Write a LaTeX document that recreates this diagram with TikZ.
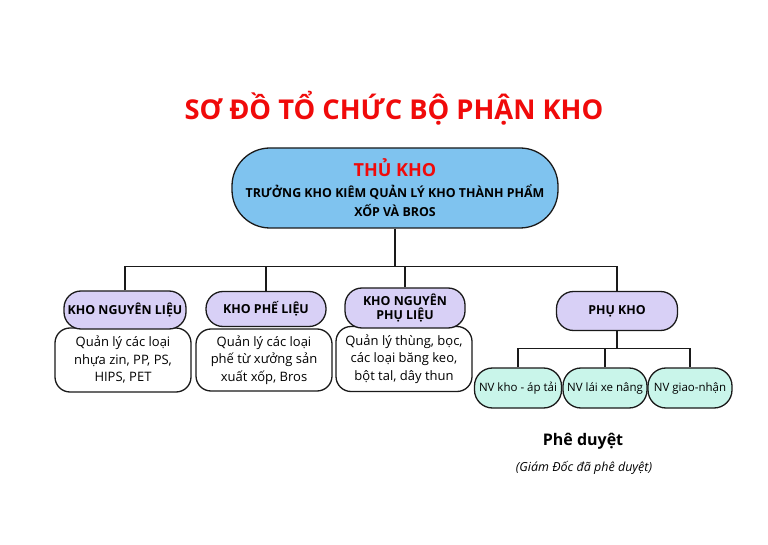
\documentclass[tikz,border=0pt]{standalone}
\usepackage{fontspec}
\setmainfont{Open Sans}
\usetikzlibrary{positioning}
\definecolor{khored}{HTML}{F00A0A}
\definecolor{khoblue}{HTML}{7FC3EF}
\definecolor{khopurple}{HTML}{D8D0F6}
\definecolor{khomint}{HTML}{C9F5EA}
\definecolor{kholine}{HTML}{1A1A1A}

\begin{document}
\begin{tikzpicture}[x=1pt, y=1pt,
    chief/.style={draw=kholine, fill=khoblue, line width=1.3pt, rounded corners=38pt,
          minimum width=326pt, minimum height=80pt, align=center, inner sep=2pt},
    headbox/.style={draw=kholine, fill=khopurple, line width=1.3pt, rounded corners=17pt,
          minimum width=122pt, minimum height=38pt, align=center, inner sep=2pt,
          font=\fontsize{12.4}{14}\selectfont\bfseries},
    bodybox/.style={draw=kholine, fill=white, line width=1.3pt, rounded corners=15pt,
          minimum width=136pt, minimum height=64pt, align=center, inner sep=2pt,
          font=\fontsize{13}{17.5}\selectfont},
    staffbox/.style={draw=kholine, fill=khomint, line width=1.3pt, rounded corners=18pt,
          minimum height=40pt, align=center, inner sep=1pt,
          font=\fontsize{11.5}{14}\selectfont},
    link/.style={draw=kholine, line width=1.3pt}]
    \useasboundingbox[fill=white] (0,0) rectangle (768,544);

    \node[text=khored, font=\fontsize{27.3}{32}\selectfont\bfseries] (title) at (394,436)
          {SƠ ĐỒ TỔ CHỨC BỘ PHẬN KHO};

    \node[chief, font=\fontsize{12.4}{19}\selectfont\bfseries] (chief) at (395,356)
          {{\fontsize{18}{22}\selectfont\color{khored}THỦ KHO}\\[2pt]
           TRƯỞNG KHO KIÊM QUẢN LÝ KHO THÀNH PHẨM\\
           XỐP VÀ BROS};

    % kho con
    \node[bodybox] (body1) at (123,184) {Quản lý các loại\\nhựa zin, PP, PS,\\HIPS, PET};
    \node[headbox] (head1) at (125,234) {KHO NGUYÊN LIỆU};
    \node[bodybox, minimum height=62pt] (body2) at (264,184) {Quản lý các loại\\phế từ xưởng sản\\xuất xốp, Bros};
    \node[headbox, minimum width=120pt, minimum height=35pt] (head2) at (266,235) {KHO PHẾ LIỆU};
    \node[bodybox, minimum height=65pt] (body3) at (404,185) {Quản lý thùng, bọc,\\các loại băng keo,\\bột tal, dây thun};
    \node[headbox, minimum width=120pt, minimum height=40pt,
          font=\fontsize{12.4}{13.5}\selectfont\bfseries] (head3) at (405,236) {KHO NGUYÊN\\PHỤ LIỆU};
    \node[headbox, minimum width=121pt, minimum height=39pt] (phukho) at (617,233) {PHỤ KHO};

    % nhan vien
    \node[staffbox, minimum width=87pt] (nv1) at (518,156) {NV kho - áp tải};
    \node[staffbox, minimum width=84pt] (nv2) at (605,156) {NV lái xe nâng};
    \node[staffbox, minimum width=84pt] (nv3) at (690,156) {NV giao-nhận};

    \node[font=\fontsize{16}{19}\selectfont\bfseries] (approve) at (583,103) {Phê duyệt};
    \node[font=\fontsize{12.5}{15}\selectfont\itshape] (note) at (584,76) {(Giám Đốc đã phê duyệt)};

    % duong noi
    \path (chief.south) ++(0,-38) coordinate (bus);
    \draw[link] (chief.south) -- (bus);
    \foreach \n in {head1,head2,head3,phukho}
        \draw[link] (\n.north) |- (bus);
    \path (phukho.south) ++(0,-17) coordinate (bus2);
    \draw[link] (phukho.south) -- (bus2);
    \foreach \n in {nv1,nv2,nv3}
        \draw[link] (\n.north) |- (bus2);
\end{tikzpicture}
\end{document}
